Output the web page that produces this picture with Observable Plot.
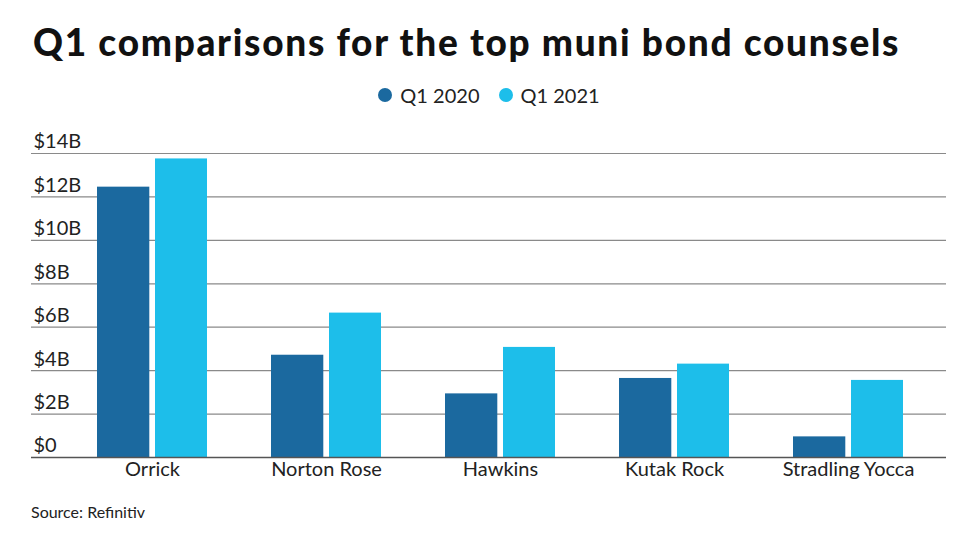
<!DOCTYPE html>
<html>
<head>
<meta charset="utf-8">
<script src="https://cdn.jsdelivr.net/npm/d3@7"></script>
<script src="https://cdn.jsdelivr.net/npm/@observablehq/plot@0.6"></script>
<style>
  html, body { margin: 0; padding: 0; background: #fff; }
  body { width: 978px; height: 550px; position: relative; font-family: Lato, "Open Sans", sans-serif; color: #111; overflow: hidden; }
  #title { position: absolute; left: 33px; top: 20px; font-size: 37px; line-height: 44px; font-weight: 900; letter-spacing: 1.7px; white-space: nowrap; color: #111; }
  #legend { position: absolute; left: 0; width: 978px; top: 83px; height: 24px; display: flex; justify-content: center; align-items: center; font-size: 20px; color: #222; }
  .item { display: flex; align-items: center; }
  .sw { width: 14px; height: 14px; border-radius: 50%; margin-right: 8px; }
  .item + .item { margin-left: 19px; }
  #chart { position: absolute; left: 0; top: 120px; }
  #source { position: absolute; left: 31px; top: 502px; font-size: 16px; color: #222; }
</style>
</head>
<body>
<div id="title">Q1 comparisons for the top muni bond counsels</div>
<div id="legend"></div>
<div id="chart"></div>
<div id="source">Source: Refinitiv</div>
<script>
const categories = ["Orrick", "Norton Rose", "Hawkins", "Kutak Rock", "Stradling Yocca"];
const seriesNames = ["Q1 2020", "Q1 2021"];
const q1_2020 = [12.45, 4.71, 2.93, 3.64, 0.95];
const q1_2021 = [13.75, 6.65, 5.07, 4.30, 3.55];
const yTicks = [0, 2, 4, 6, 8, 10, 12, 14];
const yTickLabels = ["$0", "$2B", "$4B", "$6B", "$8B", "$10B", "$12B", "$14B"];
const colors = ["#1b699f", "#1dbeea"];

const data2020 = categories.map((c, i) => ({category: c, value: q1_2020[i]}));
const data2021 = categories.map((c, i) => ({category: c, value: q1_2021[i]}));

// legend
const legend = document.getElementById("legend");
seriesNames.forEach((s, i) => {
  const item = document.createElement("div");
  item.className = "item";
  const sw = document.createElement("span");
  sw.className = "sw";
  sw.style.background = colors[i];
  const t = document.createElement("span");
  t.textContent = s;
  item.appendChild(sw); item.appendChild(t);
  legend.appendChild(item);
});

const chart = Plot.plot({
  width: 978,
  height: 377,
  marginTop: 33,
  marginBottom: 40,
  marginLeft: 31,
  marginRight: 32,
  style: {fontFamily: "Lato, 'Open Sans', sans-serif", fontSize: "20px", color: "#222", background: "#fff"},
  x: {type: "band", domain: categories, range: [63.9, 935.1], paddingInner: 0.3, paddingOuter: 0.15},
  y: {domain: [0, 14]},
  marks: [
    Plot.ruleY(yTicks.filter(d => d > 0), {stroke: "#8a8a8a", strokeWidth: 1.2}),
    Plot.barY(data2020, {x: "category", y: "value", fill: colors[0], insetLeft: 6, insetRight: 63.7}),
    Plot.barY(data2021, {x: "category", y: "value", fill: colors[1], insetLeft: 64, insetRight: 6}),
    Plot.ruleY([0], {stroke: "#555", strokeWidth: 1.3}),
    Plot.axisY(yTicks, {tickSize: 0, tickPadding: 0, textAnchor: "start", dx: 2, dy: -11.5, fontSize: 20,
      tickFormat: d => yTickLabels[yTicks.indexOf(d)], label: null}),
    Plot.axisX({tickSize: 0, tickPadding: 4, fontSize: 20, label: null})
  ]
});
document.getElementById("chart").appendChild(chart);
</script>
</body>
</html>
